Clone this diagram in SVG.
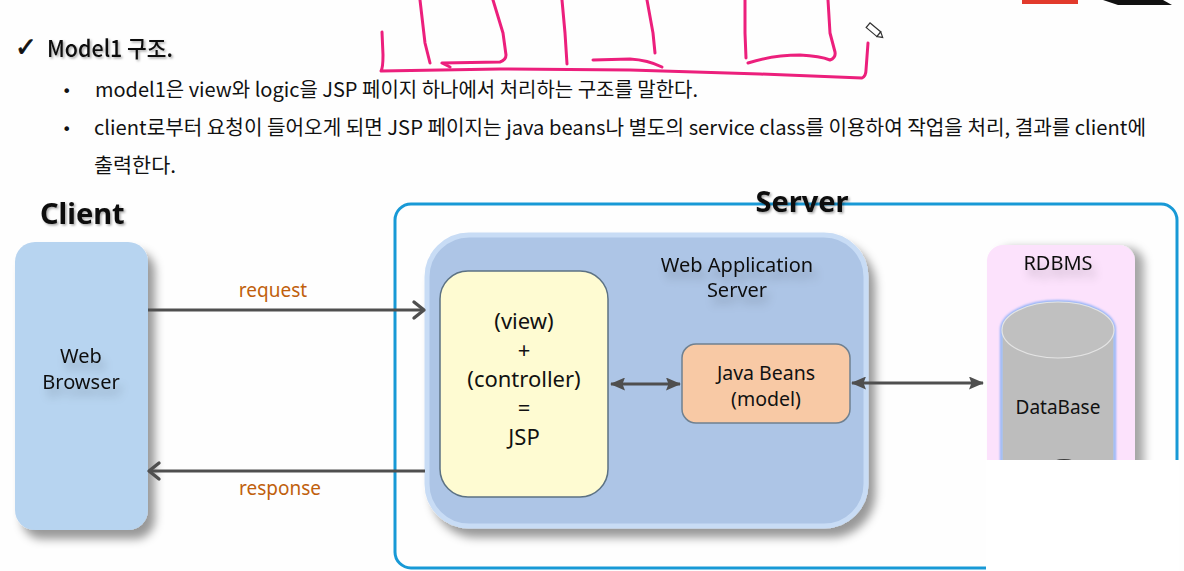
<svg xmlns="http://www.w3.org/2000/svg" width="1184" height="571" viewBox="0 0 1184 571">
<defs>
<style>
.kr{font-family:"Noto Sans CJK KR","Noto Sans",sans-serif;fill:#111;}
.lbl{font-family:"Noto Sans","Open Sans",sans-serif;fill:#111;text-anchor:middle;}
.big{font-family:"Noto Sans","Open Sans",sans-serif;font-weight:bold;fill:#111;}
.io{font-family:"Noto Sans","Open Sans",sans-serif;fill:#c0600c;text-anchor:middle;font-size:19px;}
.pink{fill:none;stroke:#ec1f7c;stroke-width:3;stroke-linecap:round;stroke-linejoin:round;}
.conn{stroke:#4f4f4f;stroke-width:3.2;fill:none;}
</style>
<marker id="chev" markerUnits="userSpaceOnUse" markerWidth="22" markerHeight="22" viewBox="0 0 22 22" refX="18" refY="11" orient="auto">
<path d="M8,3 L18,11 L8,19" fill="none" stroke="#4f4f4f" stroke-width="3.4" stroke-linecap="round" stroke-linejoin="round"/>
</marker>
<marker id="tri" markerUnits="userSpaceOnUse" markerWidth="15" markerHeight="13" viewBox="0 0 15 13" refX="14" refY="6.5" orient="auto-start-reverse">
<path d="M0,0 L15,6.5 L0,13 L2.5,6.5 Z" fill="#4f4f4f"/>
</marker>
<filter id="sh" x="-20%" y="-20%" width="150%" height="150%">
<feDropShadow dx="7" dy="9" stdDeviation="5" flood-color="#000" flood-opacity="0.4"/>
</filter>
<filter id="shR" x="-20%" y="-20%" width="150%" height="150%">
<feDropShadow dx="9" dy="3" stdDeviation="5" flood-color="#000" flood-opacity="0.35"/>
</filter>
<filter id="ts" x="-10%" y="-20%" width="130%" height="160%">
<feDropShadow dx="1.5" dy="1.5" stdDeviation="1" flood-color="#000" flood-opacity="0.35"/>
</filter>
<filter id="soft" x="-20%" y="-40%" width="150%" height="200%">
<feDropShadow dx="4" dy="8" stdDeviation="4" flood-color="#000" flood-opacity="0.22"/>
</filter>
<filter id="glow" x="-10%" y="-10%" width="120%" height="120%">
<feGaussianBlur stdDeviation="1.2"/>
</filter>
</defs>
<rect width="1184" height="571" fill="#fefefe"/>

<g id="annotations">
<path class="pink" d="M382,32 L383,55 Q383,68 381,71 L500,69 L630,70 L760,74 L862,78 Q866,76 866,70 L868,43"/>
<path class="pink" d="M420,0 L425,43 L430,63"/>
<path class="pink" d="M450,67 L442,63 L500,62 Q506,60 506,55 L503,33 L493,0"/>
<path class="pink" d="M562,0 L565,33 L567,64"/>
<path class="pink" d="M593,60 L630,59 Q648,60 662,67"/>
<path class="pink" d="M647,0 L653,33 L655,53"/>
<path class="pink" d="M745,0 L745,33 L746,58"/>
<path class="pink" d="M748,63 Q773,55 800,55 Q820,56 830,60 Q836,58 835,52 L830,33 L828,0"/>
<g transform="translate(875,31) rotate(40)">
<rect x="-9" y="-3" width="14" height="6" fill="#fff" stroke="#333" stroke-width="1.2"/>
<path d="M5,-3 L10,0 L5,3 Z" fill="#fff" stroke="#333" stroke-width="1.2"/>
</g>
<rect x="1022" y="0" width="56" height="4" fill="#e23a2c"/>
<path d="M1103,0 L1163,0 L1172,5 L1118,5 Z" fill="#111"/>
</g>

<g id="header">
<text x="15" y="56" font-family="DejaVu Sans,sans-serif" font-size="26" fill="#111" stroke="#111" stroke-width="0.8">✓</text>
<text class="kr" x="47" y="57" font-size="23" font-weight="500" textLength="126" lengthAdjust="spacingAndGlyphs" filter="url(#ts)">Model1 구조.</text>
<text x="62" y="97" font-family="DejaVu Sans,sans-serif" font-size="16" fill="#111">•</text>
<text class="kr" x="95" y="97" font-size="20" textLength="603" lengthAdjust="spacingAndGlyphs">model1은 view와 logic을 JSP 페이지 하나에서 처리하는 구조를 말한다.</text>
<text x="62" y="135" font-family="DejaVu Sans,sans-serif" font-size="16" fill="#111">•</text>
<text class="kr" x="94" y="135" font-size="20" textLength="1052" lengthAdjust="spacingAndGlyphs">client로부터 요청이 들어오게 되면 JSP 페이지는 java beans나 별도의 service class를 이용하여 작업을 처리, 결과를 client에</text>
<text class="kr" x="94" y="173" font-size="20" textLength="82" lengthAdjust="spacingAndGlyphs">출력한다.</text>
</g>

<g id="client">
<text class="big" x="40" y="224" font-size="29" filter="url(#ts)">Client</text>
<rect x="15" y="242" width="133" height="288" rx="20" fill="#b7d4f0" filter="url(#sh)"/>
<g filter="url(#soft)">
<text class="lbl" x="81" y="363" font-size="20">Web</text>
<text class="lbl" x="81" y="389" font-size="20">Browser</text>
</g>
</g>

<g id="server">
<rect x="395" y="204" width="782" height="364" rx="16" fill="none" stroke="#1899d6" stroke-width="3"/>
<text class="big" x="802" y="212" font-size="29" text-anchor="middle" filter="url(#ts)">Server</text>
</g>

<g id="was">
<rect x="427" y="235" width="439" height="291" rx="42" fill="#adc5e6" stroke="#c8dcf5" stroke-width="5" filter="url(#sh)"/>
<g filter="url(#soft)">
<text class="lbl" x="737" y="272" font-size="20">Web Application</text>
<text class="lbl" x="737" y="297" font-size="20">Server</text>
</g>
</g>

<g id="jsp">
<rect x="440" y="271" width="168" height="226" rx="28" fill="#fefbd2" stroke="#5c7283" stroke-width="1.5"/>
<text class="lbl" x="524" y="329" font-size="22">(view)</text>
<text class="lbl" x="524" y="358" font-size="22">+</text>
<text class="lbl" x="524" y="387" font-size="22">(controller)</text>
<text class="lbl" x="524" y="416" font-size="22">=</text>
<text class="lbl" x="524" y="445" font-size="22">JSP</text>
</g>

<g id="javabeans">
<rect x="682" y="344" width="168" height="79" rx="14" fill="#f8c9a5" stroke="#6f8090" stroke-width="1.5"/>
<text class="lbl" x="766" y="380" font-size="19.5">Java Beans</text>
<text class="lbl" x="766" y="406" font-size="19.5">(model)</text>
</g>

<g id="rdbms">
<rect x="987" y="245" width="148" height="330" rx="16" fill="#fce2fc" filter="url(#shR)"/>
<text class="lbl" x="1058" y="270" font-size="20" filter="url(#soft)">RDBMS</text>
<path d="M1002,330 L1002,500 A56,28 0 0 0 1114,500 L1114,330 A56,28 0 0 0 1002,330 Z" fill="none" stroke="#8fb0f8" stroke-width="4" filter="url(#glow)"/>
<path d="M1002,330 L1002,500 A56,28 0 0 0 1114,500 L1114,330 A56,28 0 0 0 1002,330 Z" fill="#bdbdbd" stroke="#a9c2f2" stroke-width="1.5"/>
<ellipse cx="1058" cy="330" rx="56" ry="28" fill="#c0c0c0" stroke="#e4e4e4" stroke-width="1.2"/>
<text class="lbl" x="1058" y="414" font-size="19">DataBase</text>
<ellipse cx="1064" cy="463" rx="12" ry="4" fill="#3a3a3a"/>
</g>

<g id="connectors">
<line class="conn" x1="148" y1="310" x2="424" y2="310" marker-end="url(#chev)"/>
<text class="io" x="273" y="297">request</text>
<line class="conn" x1="425" y1="471" x2="149" y2="471" marker-end="url(#chev)"/>
<text class="io" x="280" y="495">response</text>
<line class="conn" x1="611" y1="384" x2="680" y2="384" marker-start="url(#tri)" marker-end="url(#tri)"/>
<line class="conn" x1="852" y1="383" x2="983" y2="383" marker-start="url(#tri)" marker-end="url(#tri)"/>
</g>

<rect id="cover" x="986" y="460" width="193" height="111" fill="#ffffff"/>
</svg>
